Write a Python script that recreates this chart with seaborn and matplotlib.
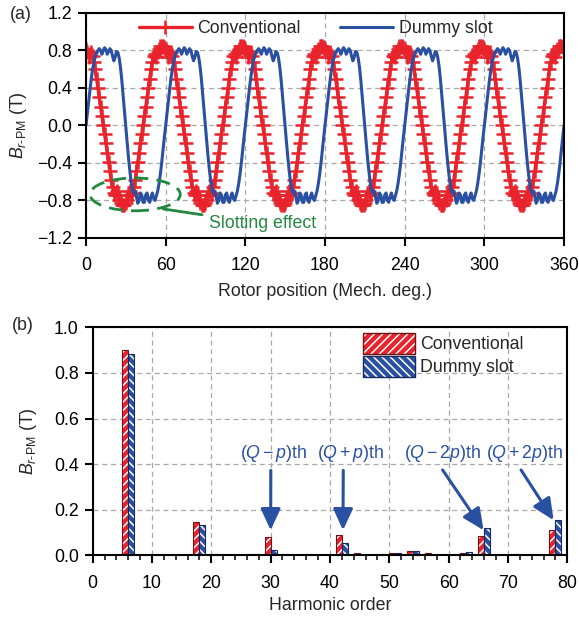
import numpy as np
import pandas as pd
import matplotlib
matplotlib.use("Agg")
import matplotlib.pyplot as plt
import seaborn as sns
from matplotlib.patches import Ellipse, Patch, Rectangle
from matplotlib.legend_handler import HandlerTuple
from matplotlib.ticker import MultipleLocator, FuncFormatter

# one 60-deg period of the radial PM flux density (1 deg steps)
period_deg = list(range(60))
conv_period = [0.82, 0.78, 0.73, 0.76, 0.78, 0.74, 0.68, 0.60, 0.50, 0.40,
               0.30, 0.20, 0.10, 0.01, -0.09, -0.19, -0.29, -0.39, -0.49, -0.58,
               -0.66, -0.72, -0.74, -0.70, -0.74, -0.80, -0.83, -0.85, -0.85, -0.85,
               -0.83, -0.80, -0.74, -0.70, -0.74, -0.72, -0.66, -0.58, -0.49, -0.39,
               -0.29, -0.19, -0.09, 0.01, 0.10, 0.20, 0.30, 0.40, 0.50, 0.60,
               0.68, 0.74, 0.76, 0.73, 0.78, 0.82, 0.85, 0.85, 0.85, 0.84]
dummy_period = [0.00, 0.12, 0.25, 0.38, 0.50, 0.60, 0.68, 0.74, 0.78, 0.80,
                0.82, 0.80, 0.76, 0.80, 0.83, 0.81, 0.76, 0.79, 0.82, 0.80,
                0.74, 0.69, 0.73, 0.79, 0.78, 0.72, 0.62, 0.48, 0.32, 0.15,
                -0.02, -0.18, -0.34, -0.48, -0.60, -0.69, -0.72, -0.70, -0.76, -0.83,
                -0.80, -0.72, -0.74, -0.82, -0.82, -0.74, -0.72, -0.80, -0.82, -0.76,
                -0.72, -0.78, -0.80, -0.75, -0.70, -0.62, -0.52, -0.40, -0.26, -0.13]
n_periods = 6

# harmonic spectrum
harmonic_order = [3, 6, 9, 12, 15, 18, 21, 24, 27, 30, 33, 36, 39,
                  42, 45, 48, 51, 54, 57, 60, 63, 66, 69, 72, 75, 78]
conv_harm = [0.002, 0.900, 0.003, 0.002, 0.002, 0.146, 0.004, 0.002, 0.003, 0.080, 0.004, 0.003, 0.002,
             0.088, 0.010, 0.002, 0.008, 0.018, 0.010, 0.003, 0.008, 0.085, 0.003, 0.006, 0.002, 0.110]
dummy_harm = [0.002, 0.885, 0.002, 0.002, 0.003, 0.132, 0.004, 0.002, 0.004, 0.022, 0.003, 0.004, 0.002,
              0.056, 0.002, 0.005, 0.010, 0.020, 0.002, 0.001, 0.013, 0.120, 0.002, 0.002, 0.001, 0.157]

designs = ["Conventional", "Dummy slot"]
RED = "#e8232b"
BLUE = "#2a50a2"
GREEN = "#22873f"
GRID = "#a8a8a8"

sns.set_theme(style="ticks")
plt.rcParams["font.family"] = ["Liberation Sans", "DejaVu Sans"]
plt.rcParams["mathtext.fontset"] = "custom"
plt.rcParams["mathtext.rm"] = "Liberation Sans"
plt.rcParams["mathtext.it"] = "Liberation Sans:italic"
plt.rcParams["hatch.linewidth"] = 1.1
plt.rcParams["axes.unicode_minus"] = True

angle = np.arange(0, 60 * n_periods + 1)
conv = np.append(np.tile(conv_period, n_periods), conv_period[0])
dummy = np.append(np.tile(dummy_period, n_periods), dummy_period[0])

fig = plt.figure(figsize=(5.79, 6.22), dpi=100)
ax1 = fig.add_axes([0.1485, 0.6174, 0.8256, 0.3617])
ax2 = fig.add_axes([0.160, 0.1072, 0.8197, 0.3666])

FS = 12.8

def style_axes(ax):
    for s in ax.spines.values():
        s.set_linewidth(1.5)
        s.set_color("black")
    ax.tick_params(which="major", direction="out", width=1.5, length=6,
                   labelsize=FS, colors="black")
    ax.tick_params(axis="x", which="major", pad=8)
    ax.tick_params(axis="y", which="major", pad=4)
    ax.tick_params(which="minor", direction="out", width=1.3, length=3.5)
    ax.grid(True, which="major", ls=(0, (4, 3)), color=GRID, lw=0.9)
    ax.set_axisbelow(True)

minus_fmt = FuncFormatter(lambda v, p: f"{v:.1f}".replace("-", "\u2212"))

# (a) waveform
sns.lineplot(x=angle, y=conv, ax=ax1, color=RED, lw=2.4, marker="+",
             markersize=10.5, markeredgewidth=1.8, markeredgecolor=RED, label=designs[0])
sns.lineplot(x=angle, y=dummy, ax=ax1, color=BLUE, lw=2.2, label=designs[1])
ax1.set_xlim(0, 360)
ax1.set_ylim(-1.2, 1.2)
ax1.xaxis.set_major_locator(MultipleLocator(60))
ax1.yaxis.set_major_locator(MultipleLocator(0.4))
ax1.yaxis.set_major_formatter(minus_fmt)
style_axes(ax1)
ax1.set_xlabel("Rotor position (Mech. deg.)", fontsize=FS, labelpad=6)
ax1.set_ylabel(r"$B_{r\text{-PM}}$ (T)", fontsize=FS, labelpad=6)
ax1.legend(loc="center left", bbox_to_anchor=(0.11, 0.93), ncol=2, frameon=False,
           fontsize=FS, handlelength=3.0, handletextpad=0.3, columnspacing=2.2,
           borderpad=0, borderaxespad=0)

ax1.add_patch(Ellipse((37, -0.735), 68, 0.35, fill=False, ec=GREEN, lw=2,
                      ls=(0, (5, 3)), zorder=5))
ax1.annotate("Slotting effect", xy=(58, -0.89), xytext=(93, -1.05), color=GREEN,
             fontsize=FS, va="center", ha="left",
             arrowprops=dict(arrowstyle="-", color=GREEN, lw=2, shrinkA=3, shrinkB=0))

# (b) spectrum
df = pd.DataFrame({
    "order": harmonic_order * 2,
    "amp": conv_harm + dummy_harm,
    "design": [designs[0]] * len(harmonic_order) + [designs[1]] * len(harmonic_order),
})
sns.barplot(data=df, x="order", y="amp", hue="design", native_scale=True,
            width=2 / 3, palette=[RED, BLUE], saturation=1, legend=False, ax=ax2,
            errorbar=None)
hatches = ["////", "\\\\\\\\"]
edges = ["#6e1414", "#142a60"]
for i, cont in enumerate(ax2.containers):
    for bar in cont:
        bar.set_hatch(hatches[i])
        bar.set_edgecolor("white")
        bar.set_linewidth(0)
        ax2.add_patch(Rectangle(bar.get_xy(), bar.get_width(), bar.get_height(),
                                fill=False, ec=edges[i], lw=0.8, zorder=bar.get_zorder()))
ax2.set_xlim(0, 80)
ax2.set_ylim(0, 1.0)
ax2.xaxis.set_major_locator(MultipleLocator(10))
ax2.xaxis.set_minor_locator(MultipleLocator(2))
ax2.yaxis.set_major_locator(MultipleLocator(0.2))
ax2.yaxis.set_major_formatter(minus_fmt)
style_axes(ax2)
ax2.set_xlabel("Harmonic order", fontsize=FS, labelpad=4)
ax2.set_ylabel(r"$B_{r\text{-PM}}$ (T)", fontsize=FS, labelpad=11)

handles = []
for i in range(2):
    fill = Patch(facecolor=[RED, BLUE][i], edgecolor="white", hatch=hatches[i], lw=0)
    edge = Patch(fill=False, edgecolor=edges[i], lw=1.0)
    handles.append((fill, edge))
ax2.legend(handles=handles, labels=designs, handler_map={tuple: HandlerTuple(ndivide=1)},
           loc="upper left", bbox_to_anchor=(0.57, 0.975), frameon=False, fontsize=FS,
           handlelength=2.9, handleheight=1.45, handletextpad=0.3, labelspacing=0.1,
           borderpad=0, borderaxespad=0)

notes = [r"$(Q-p)$th", r"$(Q+p)$th", r"$(Q-2p)$th", r"$(Q+2p)$th"]
note_xy = [(30, 0.11), (42.2, 0.11), (65.9, 0.11), (77.7, 0.154)]
note_text = [(30.6, 0.445), (43.5, 0.445), (59.0, 0.445), (72.9, 0.445)]
note_rel = [0.45, 0.39, 0.45, 0.40]
for s, xy, xt, rp in zip(notes, note_xy, note_text, note_rel):
    ax2.annotate(s, xy=xy, xytext=xt, color=BLUE, fontsize=FS, ha="center", va="center",
                 arrowprops=dict(arrowstyle="-|>,head_length=0.65,head_width=0.3",
                                 mutation_scale=20, color=BLUE, lw=2.2,
                                 shrinkA=2, shrinkB=0, relpos=(rp, 0)))

fig.text(0.017, 0.977, "(a)", fontsize=FS, va="center", ha="left")
fig.text(0.020, 0.477, "(b)", fontsize=FS, va="center", ha="left")

fig.savefig("out.png", dpi=100)
